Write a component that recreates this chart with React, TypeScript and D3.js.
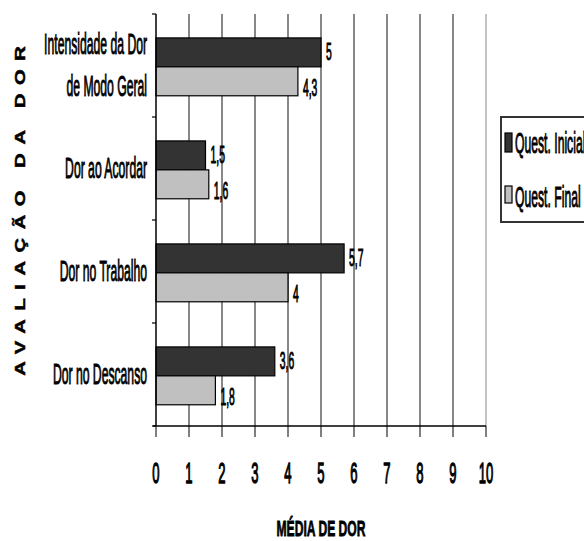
import React from "react";
import * as d3 from "d3";

const categories: string[][] = [
  ["Intensidade da Dor", "de Modo Geral"],
  ["Dor ao Acordar"],
  ["Dor no Trabalho"],
  ["Dor no Descanso"],
];
const seriesNames = ["Quest. Inicial", "Quest. Final"];
const questInicial = [5, 1.5, 5.7, 3.6];
const questFinal = [4.3, 1.6, 4, 1.8];
const xTickValues = [0, 1, 2, 3, 4, 5, 6, 7, 8, 9, 10];
const xTitle = "MÉDIA DE DOR";
const yTitle = "AVALIAÇÃO DA DOR";

const seriesValues = [questInicial, questFinal];
const seriesFill = ["#333333", "#c0c0c0"];

const W = 584;
const H = 541;
const FONT = "'Liberation Sans', Arial, sans-serif";

const locale = d3.formatLocale({ decimal: ",", thousands: ".", grouping: [3], currency: ["", ""] });
const fmt = locale.format("~g");

function SText(props: {
  x: number; y: number; sx: number; size: number; anchor?: string; weight?: string; thick?: number; children: React.ReactNode;
}) {
  const { x, y, sx, size, anchor = "start", weight = "normal", thick = 1, children } = props;
  return (
    <text
      transform={`translate(${x},${y}) scale(${sx},1)`}
      fontSize={size}
      fontFamily={FONT}
      fontWeight={weight}
      textAnchor={anchor}
      fill="#000"
      stroke="#000"
      strokeWidth={thick}
    >
      {children}
    </text>
  );
}

export default function App() {
  const x = d3.scaleLinear().domain([0, 10]).range([156, 486]);
  const catKeys = categories.map((c) => c.join(" "));
  const y = d3.scaleBand<string>().domain(catKeys).range([14, 426]).padding(0);
  const bw = y.bandwidth();
  const inner = d3
    .scaleBand<string>()
    .domain(seriesNames)
    .range([0, bw])
    .paddingInner(0)
    .paddingOuter(0.78)
    .align(0.53);
  const bh = inner.bandwidth();
  const [y0, y1] = y.range();

  return (
    <svg width={W} height={H} style={{ position: "absolute", left: 0, top: 0, background: "#fff" }}>
      <rect x={0} y={0} width={W} height={H} fill="#fff" />

      {/* gridlines */}
      {xTickValues.filter((t) => t > 0).map((t) => (
        <line key={"g" + t} x1={x(t)} x2={x(t)} y1={y0} y2={y1} stroke={t === 10 ? "#888" : "#111"} strokeWidth={1} />
      ))}

      {/* bars */}
      {catKeys.map((k, i) =>
        seriesNames.map((s, j) => {
          const v = seriesValues[j][i];
          const by = (y(k) as number) + (inner(s) as number);
          return (
            <g key={k + s}>
              <rect x={x(0)} y={by} width={x(v) - x(0)} height={bh} fill={seriesFill[j]} stroke="#000" strokeWidth={1.2} />
              <SText x={x(v) + 5} y={by + (j === 0 ? bh * 0.76 : bh)} sx={0.45} size={23}>
                {fmt(v)}
              </SText>
            </g>
          );
        })
      )}

      {/* axes */}
      <line x1={x(0)} x2={x(0)} y1={y0} y2={y1} stroke="#000" strokeWidth={1.5} />
      <line x1={x(0) - 3} x2={x(10)} y1={y1} y2={y1} stroke="#000" strokeWidth={1.5} />
      {xTickValues.map((t) => (
        <line key={"t" + t} x1={x(t)} x2={x(t)} y1={y1} y2={y1 + 11} stroke="#000" strokeWidth={1} />
      ))}
      {[...catKeys.map((k) => y(k) as number), y1].map((p, i) => (
        <line key={"yt" + i} x1={x(0) - 4} x2={x(0)} y1={p} y2={p} stroke="#000" strokeWidth={1.2} />
      ))}

      {/* x tick labels */}
      {xTickValues.map((t) => (
        <SText key={"xl" + t} x={x(t)} y={483} sx={0.45} size={29} anchor="middle" thick={1.3}>
          {String(t)}
        </SText>
      ))}

      {/* category labels */}
      {categories.map((lines, i) => {
        const c = (y(catKeys[i]) as number) + bw / 2;
        return lines.map((ln, li) => (
          <SText key={"c" + i + li} x={147} y={c + 9 + (li - (lines.length - 1) / 2) * 42} sx={0.42} size={29} anchor="end">
            {ln}
          </SText>
        ));
      })}

      {/* x title */}
      <SText x={(x(0) + x(10)) / 2} y={536} sx={0.55} size={22} anchor="middle" weight="bold" thick={0.8}>
        {xTitle}
      </SText>

      {/* y title */}
      <text
        transform={`translate(25,211) rotate(-90) scale(1.3,1)`}
        fontSize={15.5}
        fontFamily={FONT}
        fontWeight="bold"
        textAnchor="middle"
        letterSpacing={6.6}
        fill="#000"
        stroke="#000"
        strokeWidth={0.5}
      >
        <tspan dx={3.3}>{yTitle}</tspan>
      </text>

      {/* legend */}
      <rect x={501} y={117} width={120} height={105} fill="#fff" stroke="#333" strokeWidth={2} />
      {seriesNames.map((s, j) => (
        <g key={"lg" + s}>
          <rect x={505} y={j === 0 ? 133 : 186} width={7} height={j === 0 ? 19 : 17} fill={seriesFill[j]} stroke="#000" strokeWidth={1.2} />
          <SText x={515} y={j === 0 ? 153 : 207} sx={0.42} size={29}>
            {s}
          </SText>
        </g>
      ))}
    </svg>
  );
}
